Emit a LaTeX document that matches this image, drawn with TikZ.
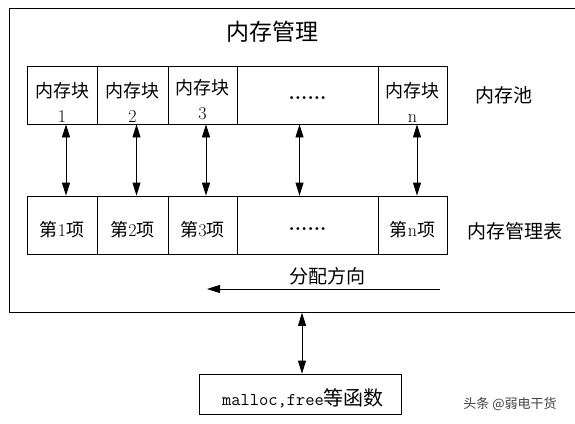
\documentclass[tikz,border=0pt]{standalone}
\usepackage{fontspec}
\newfontfamily\cjk{Noto Sans CJK SC}
\usetikzlibrary{arrows.meta}
\begin{document}
\begin{tikzpicture}[x=1pt,y=-1pt,
  line width=0.8pt,
  cell/.style={draw, inner sep=0pt, minimum height=58pt},
  txt/.style={inner sep=0pt, align=center, font=\fontsize{18}{25}\selectfont},
  dots/.style={inner sep=0pt, font=\fontsize{20}{22}\selectfont\bfseries},
  lbl/.style={inner sep=0pt, font=\cjk\fontsize{19}{22}\selectfont},
  dbl/.style={{Triangle[width=8pt,length=13pt]}-{Triangle[width=8pt,length=13pt]}},
  one/.style={-{Triangle[width=8pt,length=13pt]}}]
\useasboundingbox (0,0) rectangle (575,423);
% outer frame (extends past the right edge)
\node[draw, inner sep=0pt, minimum width=590pt, minimum height=304pt, anchor=north west] (frame) at (9,8) {};
\node[lbl, font=\cjk\fontsize{23}{26}\selectfont] (title) at (272,32) {内存管理};
% memory pool row
\node[cell, minimum width=70pt]  (b1) at (62,95)    {};
\node[cell, minimum width=71pt]  (b2) at (132.5,95) {};
\node[cell, minimum width=69pt]  (b3) at (202.5,95) {};
\node[cell, minimum width=141pt] (bd) at (307.5,95) {};
\node[cell, minimum width=69pt]  (bn) at (412.5,95) {};
\node[txt] (b1t) at ([yshift=-7pt]b1.center) {{\cjk 内存块}\\1};
\node[txt] (b2t) at ([yshift=-7pt]b2.center) {{\cjk 内存块}\\2};
\node[txt] (b3t) at ([yshift=-5pt]b3.center) {{\cjk 内存块}\\3};
\node[dots] (bdt) at ([yshift=-3pt]bd.center) {......};
\node[txt] (bnt) at ([yshift=-7pt]bn.center) {{\cjk 内存块}\\n};
\node[lbl] (pool) at (504,95) {内存池};
% management table row
\node[cell, minimum width=70pt]  (t1) at (62,225)    {};
\node[cell, minimum width=71pt]  (t2) at (132.5,225) {};
\node[cell, minimum width=69pt]  (t3) at (202.5,225) {};
\node[cell, minimum width=141pt] (td) at (307.5,225) {};
\node[cell, minimum width=69pt]  (tn) at (412.5,225) {};
\node[txt] (t1t) at ([yshift=-5pt]t1.center) {{\cjk 第}1{\cjk 项}};
\node[txt] (t2t) at ([yshift=-5pt]t2.center) {{\cjk 第}2{\cjk 项}};
\node[txt] (t3t) at ([yshift=-5pt]t3.center) {{\cjk 第}3{\cjk 项}};
\node[dots] (tdt) at ([yshift=-4pt]td.center) {......};
\node[txt] (tnt) at ([yshift=-5pt]tn.center) {{\cjk 第}n{\cjk 项}};
\node[lbl] (table) at (515,231) {内存管理表};
% links
\draw[dbl] ([xshift=4pt]b1.south) -- ([xshift=4pt]t1.north);
\draw[dbl] ([xshift=4pt]b2.south) -- ([xshift=4pt]t2.north);
\draw[dbl] ([xshift=3.5pt]b3.south) -- ([xshift=3.5pt]t3.north);
\draw[dbl] ([xshift=-8pt]bd.south) -- ([xshift=-8pt]td.north);
\draw[dbl] ([xshift=4.5pt]bn.south) -- ([xshift=4.5pt]tn.north);
% allocation direction
\node[lbl] (dir) at (327,276) {分配方向};
\coordinate (ds) at (440,289);
\coordinate (de) at (207,289);
\draw[one] (ds) -- (de);
% malloc box
\node[draw, inner sep=0pt, minimum width=202pt, minimum height=40pt] (m) at (300,394) {};
\node[inner sep=0pt, anchor=west] (mt) at ([xshift=23pt,yshift=-4pt]m.west)
  {\fontsize{18}{20}\selectfont\ttfamily malloc,free{\cjk\fontsize{20}{22}\selectfont 等函数}};
\coordinate (mtop) at ([xshift=2pt]m.north);
\draw[dbl] (frame.south -| mtop) -- (mtop);
% watermark
\node[inner sep=0pt, text=black!75, font=\cjk\fontsize{13}{16}\selectfont] (wm) at (510,404) {头条 @弱电干货};
\end{tikzpicture}
\end{document}
